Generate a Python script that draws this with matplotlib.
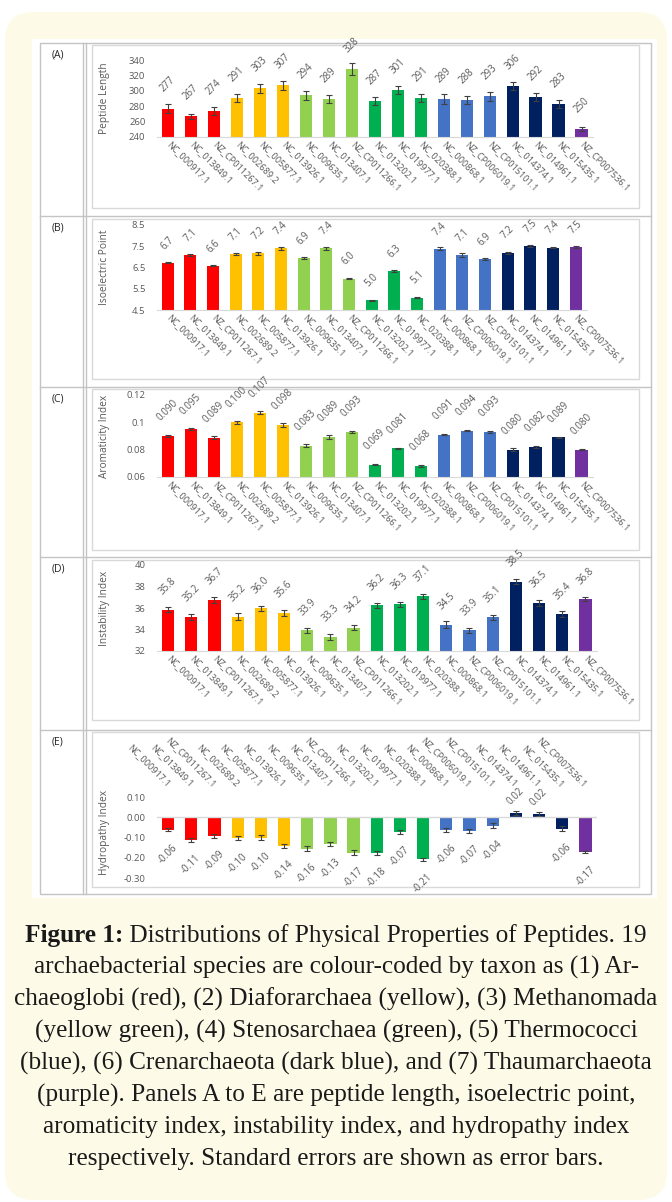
import numpy as np
import matplotlib
matplotlib.use("Agg")
import matplotlib.pyplot as plt
from matplotlib.patches import FancyBboxPatch, Rectangle
from matplotlib.lines import Line2D
from matplotlib.transforms import Affine2D

W, H = 672, 1202

# --- data -------------------------------------------------------------
accessions = ["NC_000917.1", "NC_013849.1", "NZ_CP011267.1",
              "NC_002689.2", "NC_005877.1", "NC_013926.1",
              "NC_009635.1", "NC_013407.1", "NZ_CP011266.1",
              "NC_013202.1", "NC_019977.1", "NC_020388.1",
              "NC_000868.1", "NZ_CP006019.1", "NZ_CP015101.1",
              "NC_014374.1", "NC_014961.1", "NC_015435.1",
              "NZ_CP007536.1"]
taxa = (["Archaeoglobi"] * 3 + ["Diaforarchaea"] * 3 + ["Methanomada"] * 3 +
        ["Stenosarchaea"] * 3 + ["Thermococci"] * 3 + ["Crenarchaeota"] * 3 +
        ["Thaumarchaeota"])
taxon_colors = {"Archaeoglobi": "#FF0000", "Diaforarchaea": "#FFC000",
                "Methanomada": "#92D050", "Stenosarchaea": "#00B050",
                "Thermococci": "#4472C4", "Crenarchaeota": "#002060",
                "Thaumarchaeota": "#7030A0"}

length = [277, 267, 274, 291, 303, 307, 294, 289, 328, 287, 301, 291, 289, 288, 293, 306, 292, 283, 250]
length_se = [5.4, 3.3, 5.4, 5.4, 5.4, 6, 5.4, 5.4, 8, 5, 5.4, 5, 6.5, 5.4, 6, 5, 5, 5, 2.6]

pI = [6.72, 7.08, 6.58, 7.12, 7.16, 7.40, 6.94, 7.40, 5.98, 4.96, 6.34, 5.08, 7.38, 7.08, 6.90, 7.20, 7.50, 7.44, 7.46]
pI_se = [0.03, 0.04, 0.03, 0.04, 0.08, 0.08, 0.06, 0.07, 0.03, 0.03, 0.03, 0.03, 0.08, 0.08, 0.03, 0.05, 0.05, 0.04, 0.04]

arom = [0.090, 0.095, 0.0887, 0.100, 0.107, 0.098, 0.083, 0.0893, 0.093, 0.069, 0.081, 0.068,
        0.091, 0.094, 0.093, 0.080, 0.082, 0.089, 0.080]
arom_se = [0.0006, 0.0005, 0.0012, 0.0012, 0.0012, 0.0012, 0.0012, 0.0012, 0.0008, 0.0005, 0.0004, 0.0005,
           0.0006, 0.0005, 0.0005, 0.0012, 0.0005, 0.0005, 0.0004]

instab = [35.84, 35.18, 36.74, 35.2, 35.98, 35.56, 33.92, 33.32, 34.18, 36.24, 36.34, 37.08,
          34.46, 33.92, 35.14, 38.46, 36.48, 35.42, 36.82]
instab_se = [0.25, 0.3, 0.3, 0.3, 0.25, 0.3, 0.25, 0.3, 0.2, 0.25, 0.25, 0.2, 0.3, 0.25, 0.25, 0.2, 0.3, 0.3, 0.2]

hydro = [-0.062, -0.112, -0.092, -0.104, -0.100, -0.142, -0.156, -0.132, -0.174, -0.176, -0.072, -0.208,
         -0.064, -0.066, -0.042, 0.021, 0.016, -0.056, -0.172]
hydro_se = [0.008, 0.01, 0.01, 0.01, 0.012, 0.012, 0.012, 0.008, 0.01, 0.01, 0.008, 0.008,
            0.01, 0.01, 0.012, 0.01, 0.008, 0.012, 0.005]

caption = ["Distributions of Physical Properties of Peptides. 19",
           "archaebacterial species are colour-coded by taxon as (1) Ar-",
           "chaeoglobi (red), (2) Diaforarchaea (yellow), (3) Methanomada",
           "(yellow green), (4) Stenosarchaea (green), (5) Thermococci",
           "(blue), (6) Crenarchaeota (dark blue), and (7) Thaumarchaeota",
           "(purple). Panels A to E are peptide length, isoelectric point,",
           "aromaticity index, instability index, and hydropathy index",
           "respectively. Standard errors are shown as error bars."]

# --- layout -----------------------------------------------------------
panels = [
    dict(tag="(A)", vals=length, se=length_se, fmt="{:.0f}", ylim=(240, 340),
         yticks=[240, 260, 280, 300, 320, 340], ylab=["240", "260", "280", "300", "320", "340"],
         ylabel="Peptide Length", box=(156.5, 60, 593, 137), row=(43, 216), frame=(45, 208), gap=10),
    dict(tag="(B)", vals=pI, se=pI_se, fmt="{:.1f}", ylim=(4.5, 8.5),
         yticks=[4.5, 5.5, 6.5, 7.5, 8.5], ylab=["4.5", "5.5", "6.5", "7.5", "8.5"],
         ylabel="Isoelectric Point", box=(156.5, 225, 587, 310), row=(216, 387), frame=(219, 379), gap=8),
    dict(tag="(C)", vals=arom, se=arom_se, fmt="{:.3f}", ylim=(0.06, 0.12),
         yticks=[0.06, 0.08, 0.10, 0.12], ylab=["0.06", "0.08", "0.1", "0.12"],
         ylabel="Aromaticity Index", box=(156.5, 395, 593, 477), row=(387, 557), frame=(389, 550), gap=9),
    dict(tag="(D)", vals=instab, se=instab_se, fmt="{:.1f}", ylim=(32, 40),
         yticks=[32, 34, 36, 38, 40], ylab=["32", "34", "36", "38", "40"],
         ylabel="Instability Index", box=(156.5, 565, 597, 651), row=(557, 730), frame=(560, 720), gap=9),
    dict(tag="(E)", vals=hydro, se=hydro_se, fmt="{:.2f}", ylim=(-0.30, 0.15),
         yticks=[-0.3, -0.2, -0.1, 0.0, 0.1], ylab=["-0.30", "-0.20", "-0.10", "0.00", "0.10"],
         ylabel="Hydropathy Index", box=(156.5, 787, 597, 878), row=(730, 894), frame=(732, 887), gap=9),
]

plt.rcParams['font.family'] = ['Open Sans', 'DejaVu Sans']
fig = plt.figure(figsize=(W / 100, H / 100), dpi=100)
fig.patch.set_facecolor("white")
pix = Affine2D().scale(1 / W, -1 / H).translate(0, 1) + fig.transFigure

# background, table and frames (pixel coordinates, y downwards)
fig.add_artist(FancyBboxPatch((5, 12), 662, 1188, boxstyle="round,pad=0,rounding_size=28",
                              transform=pix, fc="#FEFAE8", ec="none", zorder=-5))
fig.add_artist(Rectangle((32, 39), 625, 859, transform=pix, fc="white", ec="none", zorder=-4))
grey = "#C4C4C4"
fig.add_artist(Rectangle((40, 43), 611, 851, transform=pix, fill=False, ec=grey, lw=1, zorder=-3))
for xx in (83, 86):
    fig.add_artist(Line2D([xx, xx], [43, 894], transform=pix, color=grey, lw=1, zorder=-3))
colors = [taxon_colors[t] for t in taxa]
x = np.arange(len(accessions))

for p in panels:
    r0, r1 = p["row"]
    if r0 > 43:
        fig.add_artist(Line2D([40, 651], [r0, r0], transform=pix, color=grey, lw=1, zorder=-3))
    f0, f1 = p["frame"]
    fig.add_artist(Rectangle((92, f0), 547, f1 - f0, transform=pix, fill=False,
                             ec="#D9D9D9", lw=1, zorder=-3))
    fig.text(58, r0 + 12, p["tag"], transform=pix, ha="center", va="center",
             fontsize=7.5, color="#262626")

    x0, y0, x1, y1 = p["box"]
    ax = fig.add_axes([x0 / W, 1 - y1 / H, (x1 - x0) / W, (y1 - y0) / H])
    ax.patch.set_alpha(0)
    ax.bar(x, p["vals"], width=0.53, color=colors, yerr=p["se"],
           error_kw=dict(ecolor="#404040", elinewidth=0.8, capsize=2.2, capthick=0.8))
    ax.set_xlim(-0.5, len(x) - 0.5)
    ax.set_ylim(*p["ylim"])
    ax.set_yticks(p["yticks"])
    ax.set_yticklabels(p["ylab"], fontsize=6.8, color="#595959")
    for s in ax.spines.values():
        s.set_visible(False)
    ax.tick_params(length=0)
    ax.tick_params(axis="y", pad=8)
    ax.set_xticks(x)
    if p["tag"] == "(E)":
        ax.axhline(0, color="#D9D9D9", lw=1)
        ax.xaxis.tick_top()
        ax.set_xticklabels(accessions, rotation=-45, ha="right", va="center",
                           rotation_mode="anchor", fontsize=6.6, color="#595959")
        ax.tick_params(axis="x", pad=1)
    else:
        ax.spines["bottom"].set_visible(True)
        ax.spines["bottom"].set_color("#D9D9D9")
        ax.set_xticklabels(accessions, rotation=-45, ha="left", va="center",
                           rotation_mode="anchor", fontsize=6.6, color="#595959")
        ax.tick_params(axis="x", pad=4)
    ax.set_ylabel(p["ylabel"], fontsize=7.3, color="#595959")
    ax.yaxis.set_label_coords((110 - x0) / (x1 - x0), 0.5)

    for i, v in enumerate(p["vals"]):
        label = p["fmt"].format(v)
        if v >= 0:
            off = p["gap"] if p["tag"] != "(E)" else 4
            ax.annotate(label, (i, v), xytext=(0, off), textcoords="offset points",
                        rotation=45, ha="center", va="bottom", fontsize=7,
                        color="#595959", annotation_clip=False)
        else:
            ax.annotate(label, (i, v), xytext=(0, -p["gap"]), textcoords="offset points",
                        rotation=45, ha="center", va="top", fontsize=7,
                        color="#595959", annotation_clip=False)

# caption
renderer = fig.canvas.get_renderer()
probe = fig.text(0, 0, caption[4], fontsize=10, family="Liberation Serif")
fs = 10 * 632 / probe.get_window_extent(renderer).width
probe.remove()

cx = 336
bold = fig.text(0, 0, "Figure 1:", fontsize=fs, family="Liberation Serif", weight="bold")
rest = fig.text(0, 0, " " + caption[0], fontsize=fs, family="Liberation Serif")
wb = bold.get_window_extent(renderer).width
wr = rest.get_window_extent(renderer).width
bold.remove()
rest.remove()
start = cx - (wb + wr) / 2
base = 942
fig.text(start, base, "Figure 1:", transform=pix, fontsize=fs, family="Liberation Serif",
         weight="bold", color="#1a1a1a", va="baseline", ha="left")
fig.text(start + wb, base, " " + caption[0], transform=pix, fontsize=fs,
         family="Liberation Serif", color="#1a1a1a", va="baseline", ha="left")
for k, line in enumerate(caption[1:], start=1):
    fig.text(cx, base + 31.9 * k, line, transform=pix, fontsize=fs, family="Liberation Serif",
             color="#1a1a1a", va="baseline", ha="center")

fig.savefig("out.png", dpi=100)
